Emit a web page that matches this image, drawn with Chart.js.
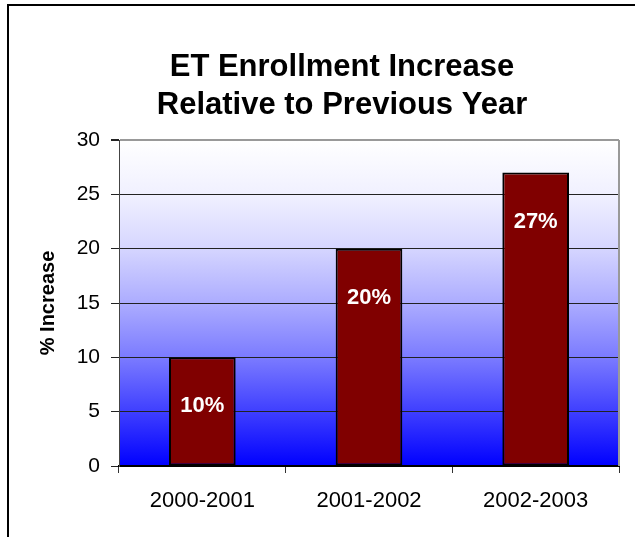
<!DOCTYPE html>
<html lang="en">
<head>
  <meta charset="UTF-8" />
  <title>ET Enrollment Increase</title>
  <script src="https://cdn.jsdelivr.net/npm/chart.js"></script>
  <style>
    body {
      margin: 0;
      background: #fff;
      overflow: hidden;
    }

    .wrap {
      position: relative;
      width: 635px;
      height: 537px;
    }

    .frame {
      position: absolute;
      left: 7px;
      top: 4px;
      width: 700px;
      height: 600px;
      border-left: 2px solid #000;
      border-top: 2px solid #000;
      pointer-events: none;
    }
  </style>
</head>
<body>
  <div class="wrap">
    <canvas id="enrollChart" width="635" height="537"></canvas>
    <div class="frame"></div>
  </div>

  <script>
    const years = ['2000-2001', '2001-2002', '2002-2003'];
    const increases = [10, 20, 27];
    const yMin = 0;
    const yMax = 30;
    const yStep = 5;

    const FONT = "Arial, 'Liberation Sans', sans-serif";

    // white-to-blue fill behind the bars, plus the grey right edge
    const plotBackground = {
      id: 'plotBackground',
      beforeDraw(chart) {
        const { ctx, chartArea: a } = chart;
        const g = ctx.createLinearGradient(0, a.top, 0, a.bottom);
        g.addColorStop(0, '#ffffff');
        g.addColorStop(0.17, '#f0f0ff');
        g.addColorStop(0.33, '#d6d6ff');
        g.addColorStop(0.5, '#acacff');
        g.addColorStop(0.67, '#7a7aff');
        g.addColorStop(0.83, '#4040ff');
        g.addColorStop(1, '#0000ff');
        ctx.save();
        ctx.fillStyle = g;
        ctx.fillRect(a.left, a.top, a.right - a.left, a.bottom - a.top);
        ctx.restore();
      },
      beforeDatasetsDraw(chart) {
        const { ctx, chartArea: a } = chart;
        ctx.save();
        ctx.strokeStyle = '#999';
        ctx.lineWidth = 2;
        ctx.beginPath();
        ctx.moveTo(a.right, a.top);
        ctx.lineTo(a.right, a.bottom);
        ctx.stroke();
        ctx.restore();
      }
    };

    // "10%" style labels just inside the top of each bar
    const barLabels = {
      id: 'barLabels',
      afterDatasetsDraw(chart) {
        const { ctx } = chart;
        const meta = chart.getDatasetMeta(0);
        ctx.save();
        ctx.fillStyle = '#fff';
        ctx.font = 'bold 22px ' + FONT;
        ctx.textAlign = 'center';
        ctx.textBaseline = 'middle';
        meta.data.forEach((bar, i) => {
          ctx.fillText(increases[i] + '%', bar.x, bar.y + 49);
        });
        ctx.restore();
      }
    };

    new Chart(document.getElementById('enrollChart').getContext('2d'), {
      type: 'bar',
      data: {
        labels: years,
        datasets: [{
          data: increases,
          backgroundColor: '#800000',
          borderColor: '#000',
          borderWidth: 2,
          borderSkipped: false,
          barPercentage: 0.4,
          categoryPercentage: 1
        }]
      },
      options: {
        responsive: false,
        animation: false,
        layout: { padding: { left: 65, right: 16, top: 0, bottom: 0 } },
        plugins: {
          legend: { display: false },
          tooltip: { enabled: false },
          title: {
            display: true,
            text: ['ET Enrollment Increase', 'Relative to Previous Year'],
            color: '#000',
            font: { family: FONT, size: 31, weight: 'bold', lineHeight: 1.226 },
            padding: { top: 48, bottom: 16 }
          }
        },
        scales: {
          x: {
            afterFit(scale) { scale.height = 71; },
            grid: {
              offset: true,
              drawOnChartArea: false,
              drawTicks: true,
              tickLength: 7,
              tickColor: '#333'
            },
            border: { color: '#000', width: 2 },
            ticks: {
              color: '#000',
              padding: 15,
              font: { family: FONT, size: 22 }
            }
          },
          y: {
            min: yMin,
            max: yMax,
            afterFit(scale) { scale.width = 54; },
            grid: {
              color: ctx => (ctx.tick && ctx.tick.value === yMax ? '#999' : '#222'),
              lineWidth: ctx => (ctx.tick && ctx.tick.value === yMax ? 2 : 1),
              tickLength: 8,
              tickColor: '#222'
            },
            border: { color: '#444', width: 1 },
            ticks: {
              stepSize: yStep,
              color: '#000',
              padding: 11,
              font: { family: FONT, size: 21 }
            },
            title: {
              display: true,
              text: '% Increase',
              color: '#000',
              font: { family: FONT, size: 20, weight: 'bold' },
              padding: { top: -29, bottom: 0 }
            }
          }
        }
      },
      plugins: [plotBackground, barLabels]
    });
  </script>
</body>
</html>
